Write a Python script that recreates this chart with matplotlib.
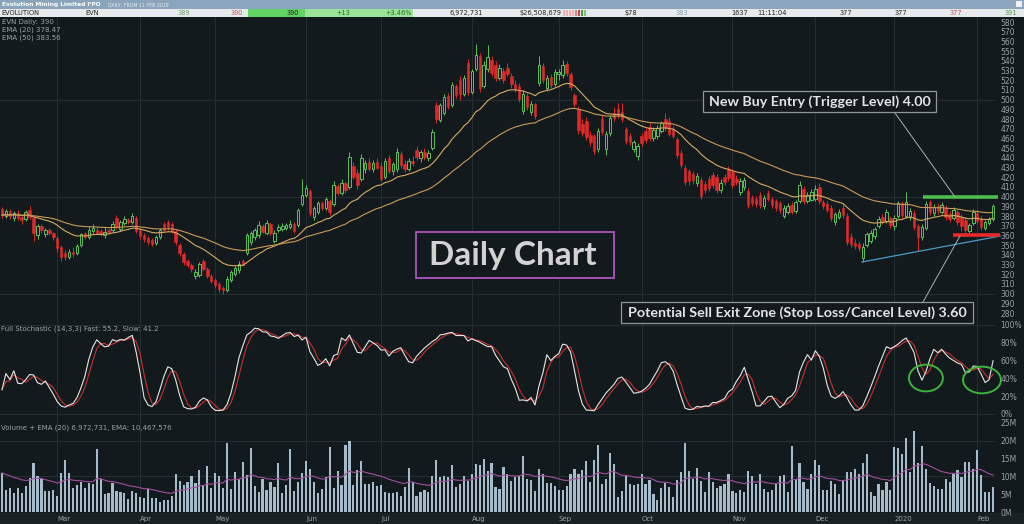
import numpy as np
import pandas as pd
import matplotlib
matplotlib.use('Agg')
import matplotlib.pyplot as plt
from matplotlib.patches import Rectangle, Ellipse
from matplotlib.lines import Line2D

# Evolution Mining (EVN) daily, 11 Feb 2019 - 7 Feb 2020, prices in cents
holidays = ['2019-04-19', '2019-04-22', '2019-04-25', '2019-06-10',
            '2019-12-25', '2019-12-26', '2020-01-01', '2020-01-27']

opens = [387, 380, 385, 378, 383, 379, 377, 386, 378, 360, 370, 361, 366, 362,
         357, 348, 342, 338, 343, 342, 350, 362, 358, 365, 366, 365, 360, 366, 366, 378, 367, 373, 376, 374, 378,
         366, 360, 357, 355, 352, 358, 372, 374, 372, 365, 350, 341, 334, 330, 318, 319, 334, 325, 318,
         314, 310, 306, 304, 314, 320, 324, 334, 342, 353, 358, 360, 370, 362, 372, 354, 366, 367, 368, 369, 372, 371, 392,
         402, 406, 379, 384, 393, 388, 396, 392, 411, 404, 414, 410, 432, 424, 418, 428, 436, 428, 436,
         432, 420, 440, 426, 428, 444, 434, 428, 437, 448, 440, 446, 440, 450, 494, 479, 486, 504, 494, 514, 520, 506, 538,
         508, 532, 545, 514, 532, 541, 536, 522, 530, 533, 524, 516, 514, 488, 504, 487, 495, 517, 535,
         512, 523, 516, 526, 525, 537, 526, 505, 490, 475, 478, 464, 462, 449, 480, 449, 466, 486, 490, 487, 470, 462, 449, 442,
         462, 468, 472, 460, 462, 468, 480, 478, 470, 459, 445, 430, 426, 423, 414, 417, 413, 418, 422, 420, 407, 420, 428,
         425, 418, 405, 410, 406, 399, 398, 402, 390, 404, 398, 395, 393, 380, 384, 391, 385, 395, 408, 395, 397,
         398, 410, 394, 392, 388, 374, 379, 388, 380, 358, 352, 351, 337, 350, 354, 359, 370, 379, 375, 378,
         370, 380, 393, 380, 379, 383, 370, 358, 368, 394, 383, 390, 384, 388, 382, 378, 384, 379, 376, 365, 373,
         383, 377, 368, 373, 377]
highs = [389, 387, 387, 385, 386, 381, 386, 390, 380, 372, 372, 368, 368, 364,
         359, 350, 345, 346, 348, 351, 363, 364, 370, 372, 369, 367, 369, 368, 375, 381, 376, 380, 378, 383, 380,
         368, 362, 359, 357, 360, 368, 374, 376, 374, 367, 352, 343, 336, 332, 325, 333, 336, 327, 320,
         316, 312, 308, 318, 324, 328, 334, 336, 362, 365, 368, 375, 372, 376, 374, 366, 372, 373, 373, 376, 374, 388, 418,
         412, 408, 390, 396, 396, 400, 398, 416, 413, 418, 416, 446, 436, 428, 444, 438, 440, 438, 440,
         436, 440, 443, 436, 450, 447, 438, 440, 442, 452, 448, 450, 448, 470, 498, 497, 506, 507, 518, 516, 524, 525, 542,
         532, 557, 548, 540, 556, 545, 540, 537, 533, 538, 527, 520, 517, 510, 507, 499, 497, 545, 538,
         525, 526, 532, 532, 541, 540, 528, 507, 493, 480, 482, 468, 465, 471, 484, 468, 484, 492, 497, 497, 472, 466, 458, 455,
         466, 471, 476, 472, 474, 478, 486, 482, 473, 461, 448, 433, 429, 426, 424, 420, 416, 421, 425, 423, 418, 423, 432,
         429, 422, 419, 420, 409, 402, 401, 405, 402, 407, 400, 398, 396, 391, 393, 394, 397, 416, 411, 405, 408,
         412, 414, 397, 395, 391, 384, 387, 392, 383, 362, 356, 354, 352, 364, 366, 369, 380, 382, 387, 380,
         381, 396, 396, 405, 388, 386, 372, 372, 396, 397, 392, 393, 394, 391, 385, 389, 387, 382, 379, 373, 387,
         386, 380, 376, 379, 392]
lows = [378, 378, 377, 375, 376, 372, 375, 377, 354, 356, 363, 358, 360, 355,
        343, 334, 335, 336, 338, 340, 348, 356, 356, 362, 361, 359, 357, 361, 364, 367, 365, 371, 372, 372, 362,
        356, 353, 350, 349, 350, 356, 364, 366, 362, 350, 339, 330, 327, 322, 315, 317, 323, 316, 311,
        306, 302, 300, 302, 312, 318, 321, 328, 340, 350, 355, 357, 362, 360, 360, 352, 364, 365, 366, 367, 363, 369, 390,
        400, 380, 376, 382, 386, 386, 381, 390, 402, 402, 404, 408, 418, 408, 416, 424, 426, 425, 428,
        416, 418, 424, 422, 425, 430, 425, 426, 432, 438, 436, 438, 437, 448, 476, 477, 484, 490, 492, 502, 500, 504, 505,
        506, 530, 508, 512, 528, 524, 519, 520, 517, 524, 512, 508, 498, 485, 489, 484, 480, 514, 517,
        509, 512, 514, 520, 522, 524, 510, 492, 465, 462, 458, 452, 444, 446, 464, 443, 463, 478, 481, 477, 454, 453, 446, 438,
        452, 455, 457, 457, 459, 466, 468, 462, 460, 440, 430, 412, 412, 413, 411, 398, 404, 406, 409, 404, 404, 412, 416,
        409, 412, 402, 407, 388, 390, 389, 388, 387, 395, 388, 385, 383, 378, 382, 382, 383, 393, 392, 393, 395,
        395, 392, 387, 384, 375, 371, 377, 378, 350, 348, 346, 344, 333, 348, 352, 356, 368, 372, 373, 368,
        366, 378, 378, 378, 376, 366, 344, 355, 366, 381, 380, 382, 382, 376, 374, 376, 371, 365, 360, 363, 371,
        372, 366, 366, 371, 375]
closes = [381, 385, 380, 383, 378, 376, 384, 379, 362, 370, 366, 366, 362, 358,
          347, 338, 338, 343, 341, 349, 361, 358, 366, 368, 363, 361, 364, 364, 372, 369, 374, 377, 374, 380, 365,
          359, 356, 353, 351, 358, 366, 366, 369, 364, 353, 342, 333, 330, 325, 322, 331, 325, 318, 313,
          309, 305, 304, 315, 322, 326, 331, 330, 360, 362, 366, 371, 364, 373, 362, 363, 369, 370, 371, 372, 365, 386, 402,
          409, 383, 388, 393, 388, 398, 384, 412, 404, 414, 407, 441, 420, 412, 440, 435, 428, 435, 430,
          418, 437, 426, 434, 446, 433, 428, 437, 435, 441, 446, 441, 445, 467, 480, 494, 503, 492, 515, 505, 506, 522, 508,
          530, 546, 512, 536, 544, 527, 522, 533, 520, 526, 516, 511, 501, 506, 492, 496, 483, 536, 520,
          522, 515, 529, 528, 536, 527, 513, 495, 469, 466, 461, 456, 447, 468, 467, 465, 481, 481, 484, 480, 457, 456, 456, 452,
          455, 458, 460, 469, 471, 476, 471, 465, 463, 443, 433, 415, 416, 417, 421, 401, 407, 409, 412, 407, 414, 415, 419,
          412, 415, 416, 417, 391, 393, 392, 391, 399, 398, 391, 388, 386, 388, 390, 384, 394, 412, 396, 402, 405,
          408, 395, 390, 386, 378, 382, 384, 381, 353, 351, 349, 347, 348, 361, 363, 367, 377, 374, 384, 371,
          378, 393, 381, 394, 385, 369, 358, 369, 392, 384, 389, 385, 391, 379, 377, 386, 374, 370, 366, 371, 384,
          375, 369, 374, 377, 390]
# volume in millions of shares
volumes = [11, 6.2, 6.7, 5.3, 6.7, 5.3, 7.2, 9.6, 13.8, 10,
           9.2, 5.8, 5.8, 6.2, 4.4, 11, 14.5, 11, 6.7, 7.6,
           8.5, 6.7, 8.2, 8, 17.7, 9.2, 5, 5.3, 8.2, 5.8,
           5.5, 5.3, 3.7, 6, 5.3, 4.2, 4, 6.5, 4, 4,
           2.8, 3.5, 3.5, 4.4, 10.8, 8.8, 7.6, 8.5, 10, 8.2,
           11.8, 7.6, 12.9, 6.7, 11, 10, 6.7, 19.4, 6.5, 11.2,
           9.2, 14, 10.5, 18, 7.3, 5.5, 9.2, 6.2, 8.5, 7,
           13.8, 5.3, 7.6, 17.7, 5.8, 8.5, 11, 14.3, 12.2, 8.5,
           5.3, 6.5, 9.7, 18.2, 6.7, 11.5, 7.6, 18.7, 19.9, 7.6,
           11.8, 14.3, 8, 8, 8.5, 7.2, 7.6, 5.5, 5.3, 5.3,
           5.5, 4.6, 7, 12.3, 8.3, 4.6, 5.5, 6.2, 5.7, 10,
           14.6, 9.7, 10.1, 9.7, 13.2, 7.1, 7.9, 10, 8.6, 10.7,
           13.5, 13.3, 14.8, 11.5, 13.9, 7, 6.5, 12.5, 10.7, 8.7,
           9.7, 10, 15.8, 9.4, 9, 6, 12.2, 10.6, 8.2, 8.2,
           7.3, 6.2, 6.2, 7.4, 10.6, 12, 10.7, 11.8, 14.3, 8.3,
           14.6, 18.8, 7.9, 9.2, 16.5, 13.4, 4.3, 6, 10.1, 8,
           7.6, 7.8, 10.7, 7.9, 9, 5.1, 3.4, 6.7, 8.2, 7,
           4.2, 9, 11.1, 19.5, 11.6, 9.4, 12.4, 8.6, 5.5, 11.1,
           8.4, 6.7, 7.4, 7.9, 10.8, 6, 5.2, 6.3, 5.5, 11.4,
           10.1, 8, 10.7, 6.5, 5.7, 6.2, 8, 10, 10.4, 5.5,
           18.4, 9.4, 13.9, 8.5, 6.6, 10.7, 14.6, 13.2, 6.2, 6.2,
           8.6, 8, 5.1, 8.7, 11.1, 11.1, 12.2, 10.6, 13.9, 16.3,
           5.7, 4.6, 7.9, 6.3, 8.3, 6.3, 18.2, 18, 16.3, 20.7,
           11.1, 22.8, 13.9, 18.6, 12, 8.2, 7.4, 6.6, 6.5, 9.2,
           8.5, 10.6, 11.8, 9.7, 14.1, 14.1, 12.1, 17.4, 10.3, 5.7,
           5.7, 7]

price_ticks = list(range(280, 590, 10))
stoch_ticks = [0, 20, 40, 60, 80, 100]
vol_ticks = [0, 5, 10, 15, 20, 25]

# trade levels drawn on the chart
buy_level = 400
stop_level = 360
buy_start, stop_start = 233.3, 240.9
trend_x = [217.8, 252.8]
trend_y = [332.6, 359.4]

bg = '#131a1d'
grid_col = '#263034'
tick_col = '#9aa3a7'
up_col = '#5cc05c'
dn_col = '#e02a2a'

W, H = 1024, 524


def fx(px):
    return px / W


def fy(py):
    return 1 - py / H


dates = pd.bdate_range('2019-02-11', '2020-02-07')
dates = dates[~dates.isin(pd.to_datetime(holidays))]
n = len(closes)
x = np.arange(n)

month_idx = [i for i in range(1, n) if dates[i].month != dates[i - 1].month]
month_lbl = ['2020' if dates[i].month == 1 else dates[i].strftime('%b') for i in month_idx]

# indicators
df = pd.DataFrame({'o': opens, 'h': highs, 'l': lows, 'c': closes, 'v': volumes})
ema20 = df.c.ewm(span=20, adjust=False).mean()
ema50 = df.c.ewm(span=50, adjust=False).mean()
ll = df.l.rolling(14, min_periods=1).min()
hh = df.h.rolling(14, min_periods=1).max()
raw = 100 * (df.c - ll) / (hh - ll)
fast = raw.rolling(3, min_periods=1).mean()
slow = fast.rolling(3, min_periods=1).mean()
vol_ema = df.v.ewm(span=20, adjust=False).mean()

fig = plt.figure(figsize=(W / 100, H / 100), dpi=100, facecolor=bg)

ax1 = fig.add_axes([0, fy(320), fx(995), 303 / H])
ax2 = fig.add_axes([0, fy(418), fx(995), 98 / H])
ax3 = fig.add_axes([0, fy(512), fx(995), 94 / H])


def style(ax, ticks, labels):
    ax.set_facecolor(bg)
    for s in ax.spines.values():
        s.set_visible(False)
    ax.set_xlim(-0.5, n - 0.5)
    ax.set_xticks([])
    ax.yaxis.tick_right()
    ax.set_yticks(ticks)
    ax.set_yticklabels(labels)
    ax.tick_params(axis='y', length=0, pad=4, labelsize=5.5, labelcolor=tick_col)
    for i in month_idx:
        ax.axvline(i, color=grid_col, lw=0.7, zorder=0)


# price panel
style(ax1, price_ticks, [str(t) for t in price_ticks])
ax1.set_ylim(272.8, 585.2)
for lvl in [300, 400, 500]:
    ax1.axhline(lvl, color=grid_col, lw=0.7, zorder=0)

up = df.c >= df.o
ax1.vlines(x[up], df.l[up], df.h[up], color=up_col, lw=0.7, zorder=2)
ax1.vlines(x[~up], df.l[~up], df.h[~up], color=dn_col, lw=0.7, zorder=2)
body = np.maximum((df.c - df.o).abs(), 0.8)
bottom = np.minimum(df.c, df.o)
ax1.bar(x[up], body[up], bottom=bottom[up], width=0.62, facecolor=bg,
        edgecolor=up_col, lw=0.7, zorder=3)
ax1.bar(x[~up], body[~up], bottom=bottom[~up], width=0.62, facecolor=dn_col,
        edgecolor=dn_col, lw=0.4, zorder=3)
ax1.plot(x, ema20, color='#d6aa62', lw=0.8, zorder=4)
ax1.plot(x, ema50, color='#c99a55', lw=0.8, zorder=4)

ax1.plot([buy_start, n + 0.3], [buy_level, buy_level], color='#4cbf4c', lw=2.6,
         solid_capstyle='butt', clip_on=False, zorder=6)
ax1.plot([stop_start, n + 0.8], [stop_level, stop_level], color='#e8292b', lw=2.6,
         solid_capstyle='butt', clip_on=False, zorder=6)
ax1.plot(trend_x, trend_y, color='#4a9cc4', lw=0.9, clip_on=False, zorder=5)

fig.text(fx(2), fy(22), 'EVN Daily: 390', color=tick_col, fontsize=5, va='center')
fig.text(fx(2), fy(30), 'EMA (20) 378.47', color=tick_col, fontsize=5, va='center')
fig.text(fx(2), fy(38), 'EMA (50) 383.56', color=tick_col, fontsize=5, va='center')

# stochastic panel
style(ax2, stoch_ticks, ['%d%%' % t for t in stoch_ticks])
ax2.set_ylim(-4.5, 105.6)
for lvl in [0, 100]:
    ax2.axhline(lvl, color=grid_col, lw=0.7, zorder=0)
ax2.plot(x, slow, color='#c8302f', lw=0.8, zorder=3)
ax2.plot(x, fast, color='#e6e6e6', lw=0.8, zorder=4)
ax2.add_patch(Ellipse((234.0, 40.4), 8.6, 30, fill=False, edgecolor='#3cb43c',
                      lw=1.4, clip_on=False, zorder=6))
ax2.add_patch(Ellipse((248.2, 38.2), 9.6, 30, fill=False, edgecolor='#3cb43c',
                      lw=1.4, clip_on=False, zorder=6))
fig.text(fx(1), fy(329), 'Full Stochastic (14,3,3) Fast: 55.2, Slow: 41.2',
         color=tick_col, fontsize=5, va='center')

# volume panel
style(ax3, vol_ticks, ['%dM' % t for t in vol_ticks])
ax3.set_ylim(0, 26.4)
for lvl in [10, 20]:
    ax3.axhline(lvl, color=grid_col, lw=0.7, zorder=0)
ax3.bar(x, df.v, width=0.55, color='#a7bccb', zorder=2)
ax3.plot(x, vol_ema, color='#a2509e', lw=0.8, zorder=3)
fig.text(fx(1), fy(428), 'Volume + EMA (20) 6,972,731, EMA: 10,467,576',
         color=tick_col, fontsize=5, va='center')
for i, lbl in zip(month_idx, month_lbl):
    ax3.text(i, -0.07, lbl, transform=ax3.get_xaxis_transform(), color=tick_col,
             fontsize=5, ha='left', va='center')

# date strip and header
fig.add_artist(Rectangle((0, 0), 1, fy(512) - 0.001, transform=fig.transFigure,
                         facecolor='#192125', edgecolor='none', zorder=-1))
fig.add_artist(Rectangle((0, fy(9)), 1, 9 / H, transform=fig.transFigure,
                         facecolor='#8aa5bb', edgecolor='none'))
fig.add_artist(Rectangle((0, fy(17)), 1, 8 / H, transform=fig.transFigure,
                         facecolor='#e6eaec', edgecolor='none'))
fig.add_artist(Rectangle((fx(248), fy(17)), fx(57), 8 / H, transform=fig.transFigure,
                         facecolor='#62d262', edgecolor='none'))
fig.add_artist(Rectangle((fx(305), fy(17)), fx(108), 8 / H, transform=fig.transFigure,
                         facecolor='#9ae49a', edgecolor='none'))
fig.add_artist(Rectangle((fx(1016), fy(7)), fx(6), 6 / H, transform=fig.transFigure,
                         facecolor='#f0f0f0', edgecolor='none'))
fig.text(fx(2), fy(4.5), 'Evolution Mining Limited FPO', color='white', fontsize=4.2,
         fontweight='bold', va='center')
fig.text(fx(108), fy(4.8), 'DAILY, FROM 11 FEB 2019', color='#e8eef2', fontsize=3.3,
         va='center')

quote_cells = [(1, 'EVOLUTION', 'left', '#222'), (85, 'EVN', 'left', '#222'),
               (190, '389', 'right', '#6c9a6c'), (243, '390', 'right', '#c05050'),
               (299, '390', 'right', '#222'), (350, '+13', 'right', '#2a6a2a'),
               (412, '+3.46%', 'right', '#2a6a2a'), (483, '6,972,731', 'right', '#222'),
               (561, '$26,508,679', 'right', '#222'), (637, '$78', 'right', '#222'),
               (688, '383', 'right', '#7f9db5'), (748, '1637', 'right', '#222'),
               (787, '11:11:04', 'right', '#222'), (852, '377', 'right', '#222'),
               (907, '377', 'right', '#222'), (962, '377', 'right', '#c05050'),
               (1017, '391', 'right', '#4a9a4a')]
for px, txt, ha, col in quote_cells:
    fig.text(fx(px), fy(13), txt, color=col, fontsize=4.8, ha=ha, va='center')
for k, col in enumerate(['#f0b0b0', '#f0b0b0', '#f0b0b0', '#f0b0b0', '#e08080', '#d04040', '#40a040', '#80c080']):
    fig.add_artist(Rectangle((fx(563 + k * 3), fy(16)), fx(2), 6 / H, transform=fig.transFigure,
                             facecolor=col, edgecolor='none'))

# annotation boxes


def box(x0, y0, x1, y1, edge, lw):
    fig.add_artist(Rectangle((fx(x0), fy(y1)), fx(x1 - x0), (y1 - y0) / H,
                             transform=fig.transFigure, facecolor=bg, edgecolor=edge,
                             lw=lw, zorder=7))


box(416, 232, 614, 278, '#a34fb3', 1.4)
fig.text(fx(513), fy(255), 'Daily Chart', color='#d2d2d2', fontsize=24, family='Lato',
         fontweight='bold', ha='center', va='center', zorder=8)

box(703, 91, 936, 112, '#8f979b', 0.9)
fig.text(fx(819.5), fy(101.5), 'New Buy Entry (Trigger Level) 4.00', color='#e4e4e4',
         fontsize=10.3, family='Lato', fontweight='bold', ha='center', va='center', zorder=8)

box(621, 302, 973, 323, '#8f979b', 0.9)
fig.text(fx(797), fy(312.5), 'Potential Sell Exit Zone (Stop Loss/Cancel Level) 3.60',
         color='#e4e4e4', fontsize=10.3, family='Lato', fontweight='bold', ha='center',
         va='center', zorder=8)

fig.add_artist(Line2D([fx(895), fx(955)], [fy(113), fy(197)], color='#aab0b3', lw=0.7,
                      transform=fig.transFigure, zorder=6))
fig.add_artist(Line2D([fx(923), fx(960)], [fy(302), fy(236)], color='#aab0b3', lw=0.7,
                      transform=fig.transFigure, zorder=6))

fig.savefig('out.png', dpi=100, facecolor=bg)
